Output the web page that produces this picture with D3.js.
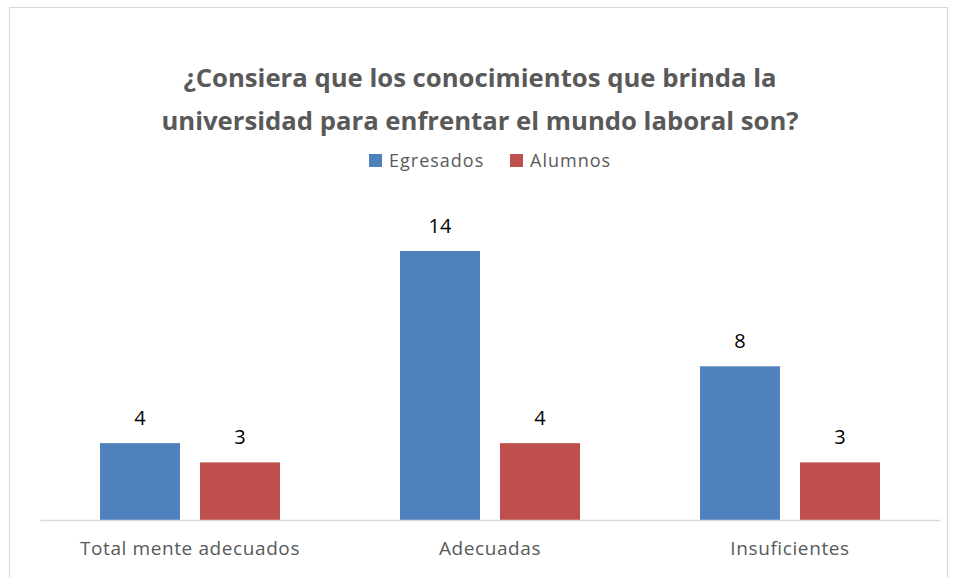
<!DOCTYPE html>
<html>
<head>
<meta charset="utf-8">
<script src="https://cdn.jsdelivr.net/npm/d3@7"></script>
<style>
  body { margin: 0; background: #fff; }
  text { font-family: "Open Sans", sans-serif; }
</style>
</head>
<body>
<div id="chart"></div>
<script>
// data
var categories = ["Total mente adecuados", "Adecuadas", "Insuficientes"];
var seriesNames = ["Egresados", "Alumnos"];
var egresados = [4, 14, 8];
var alumnos = [3, 4, 3];
var colors = ["#4F81BD", "#C0504D"];
var titleLines = ["¿Consiera que los conocimientos que brinda la",
                  "universidad para enfrentar el mundo laboral son?"];

var width = 957, height = 578;

var svg = d3.select("#chart").append("svg")
  .attr("width", width)
  .attr("height", height);

// chart area border
svg.append("rect")
  .attr("x", 9.5).attr("y", 7.5)
  .attr("width", 938).attr("height", 580)
  .attr("fill", "#fff")
  .attr("stroke", "#d9d9d9");

var x0 = d3.scaleBand()
  .domain(categories)
  .range([40, 940]);

var x1 = d3.scaleBand()
  .domain(seriesNames)
  .range([0, x0.bandwidth()])
  .paddingInner(0.2)
  .paddingOuter(0.6);

var y = d3.scaleLinear()
  .domain([0, 14])
  .range([520, 251]);

var rows = categories.map(function(c, i) {
  return { cat: c, vals: [
    { s: seriesNames[0], v: egresados[i], c: colors[0] },
    { s: seriesNames[1], v: alumnos[i], c: colors[1] }
  ]};
});

// title
svg.append("g").selectAll("text")
  .data(titleLines)
  .enter().append("text")
  .attr("x", 480)
  .attr("y", (d, i) => 87 + i * 43)
  .attr("text-anchor", "middle")
  .attr("font-size", 25.7)
  .attr("font-weight", "bold")
  .attr("fill", "#595959")
  .text(d => d);

// legend
var legend = svg.append("g").selectAll("g")
  .data(seriesNames)
  .enter().append("g")
  .attr("transform", (d, i) => `translate(${i == 0 ? 369 : 510},154)`);
legend.append("rect")
  .attr("width", 13).attr("height", 13)
  .attr("fill", (d, i) => colors[i]);
legend.append("text")
  .attr("x", 20).attr("y", 13)
  .attr("font-size", 18)
  .attr("letter-spacing", 1)
  .attr("fill", "#595959")
  .text(d => d);

// bars
var groups = svg.append("g").selectAll("g")
  .data(rows)
  .enter().append("g")
  .attr("transform", d => `translate(${x0(d.cat)},0)`);

groups.selectAll("rect")
  .data(d => d.vals)
  .enter().append("rect")
  .attr("x", d => x1(d.s))
  .attr("y", d => y(d.v))
  .attr("width", x1.bandwidth())
  .attr("height", d => y(0) - y(d.v))
  .attr("fill", d => d.c);

groups.selectAll("text")
  .data(d => d.vals)
  .enter().append("text")
  .attr("x", d => x1(d.s) + x1.bandwidth() / 2)
  .attr("y", d => y(d.v) - 18)
  .attr("text-anchor", "middle")
  .attr("font-size", 20)
  .attr("fill", "#000")
  .text(d => d.v);

// x axis
var xAxis = svg.append("g")
  .attr("transform", `translate(0,${y(0)})`)
  .call(d3.axisBottom(x0).tickSize(0).tickPadding(22));
xAxis.select(".domain").attr("stroke", "#d9d9d9").attr("stroke-width", 1.5);
xAxis.selectAll("text")
  .attr("font-size", 19)
  .attr("letter-spacing", 0.6)
  .attr("fill", "#595959")
  .style("font-family", "'Open Sans', sans-serif");
</script>
</body>
</html>
